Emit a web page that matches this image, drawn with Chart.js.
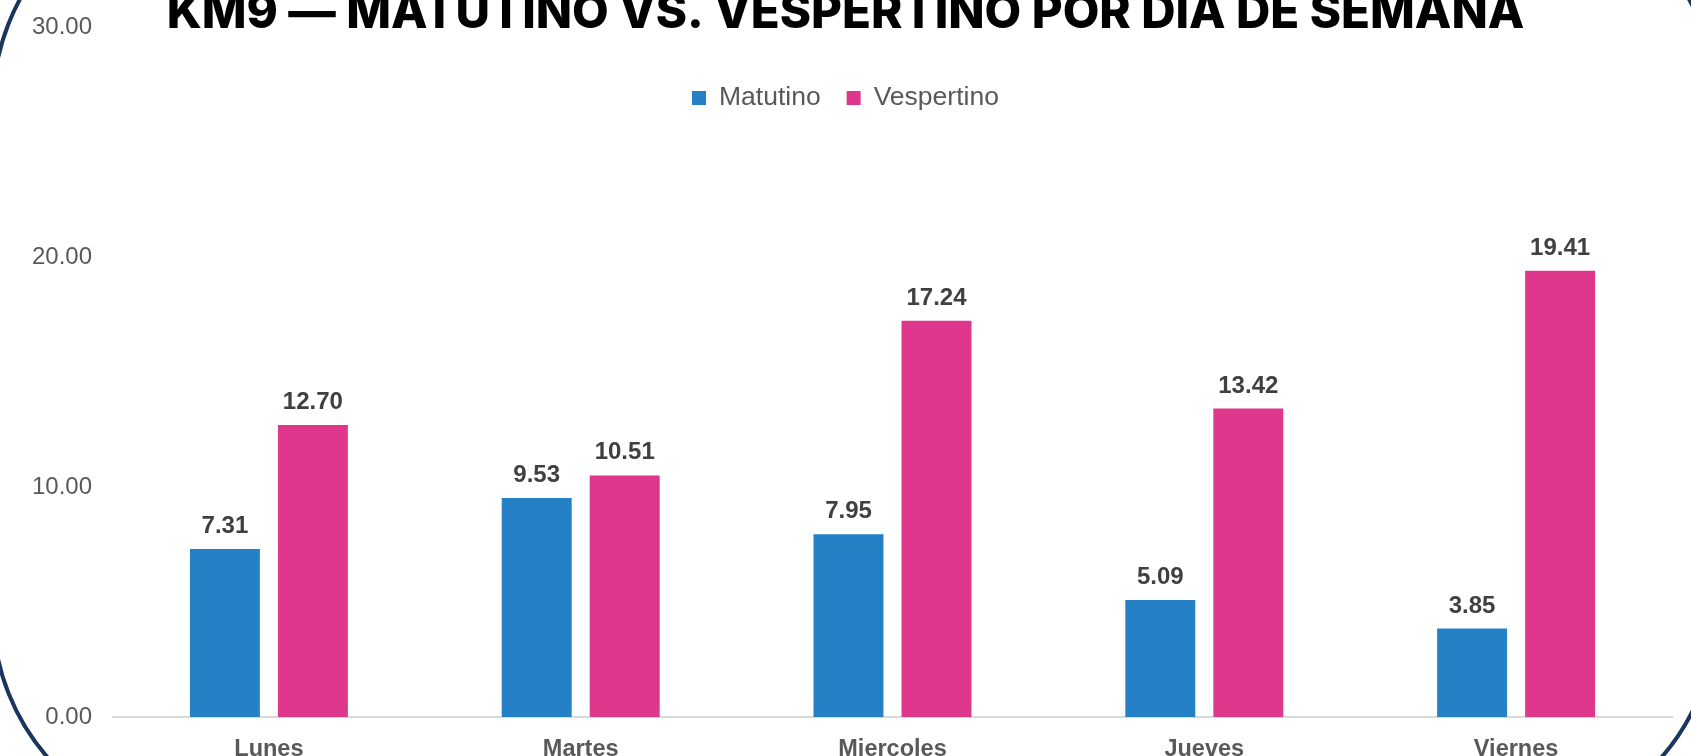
<!DOCTYPE html>
<html>
<head>
<meta charset="utf-8">
<script src="https://cdn.jsdelivr.net/npm/chart.js@4/dist/chart.umd.min.js"></script>
<style>
  html, body { margin: 0; padding: 0; background: #fff; overflow: hidden; }
  #wrap { position: relative; width: 1691px; height: 756px; overflow: hidden; }
  #frame {
    position: absolute; left: -9px; top: -118px; width: 1727px; height: 953px;
    box-sizing: border-box; border: 4.5px solid #1b365d; border-radius: 223px;
  }
  #myChart { position: absolute; left: 0; top: 0; }
</style>
</head>
<body>
<div id="wrap">
  <div id="frame"></div>
  <canvas id="myChart" width="1691" height="756"></canvas>
</div>
<script>
var title = 'KM9 — MATUTINO VS. VESPERTINO POR DIA DE SEMANA';
var days = ['Lunes', 'Martes', 'Miercoles', 'Jueves', 'Viernes'];
var matutino = [7.31, 9.53, 7.95, 5.09, 3.85];
var vespertino = [12.70, 10.51, 17.24, 13.42, 19.41];
var yTicks = [0, 10, 20, 30];

// title + legend drawn over the plot, excel style
var overlay = {
  id: 'overlay',
  afterDraw: function (chart) {
    var ctx = chart.ctx;
    ctx.save();
    ctx.fillStyle = '#000';
    ctx.font = '800 47.5px Inter';
    ctx.textAlign = 'center';
    ctx.textBaseline = 'alphabetic';
    ctx.fillText(title, chart.width / 2, 28);

    ctx.font = '26.5px "Liberation Sans"';
    ctx.textAlign = 'left';
    ctx.textBaseline = 'middle';
    var x = 692;
    chart.data.datasets.forEach(function (ds) {
      ctx.fillStyle = ds.backgroundColor;
      ctx.fillRect(x, 91, 14, 14);
      ctx.fillStyle = '#595959';
      ctx.fillText(ds.label, x + 27, 98);
      x += 27 + ctx.measureText(ds.label).width + 26;
    });
    ctx.restore();
  }
};

var valueLabels = {
  id: 'valueLabels',
  afterDatasetsDraw: function (chart) {
    var ctx = chart.ctx;
    ctx.save();
    ctx.font = 'bold 24px "Liberation Sans"';
    ctx.fillStyle = '#404040';
    ctx.textAlign = 'center';
    ctx.textBaseline = 'alphabetic';
    chart.data.datasets.forEach(function (ds, i) {
      chart.getDatasetMeta(i).data.forEach(function (bar, j) {
        ctx.fillText(ds.data[j].toFixed(2), bar.x, bar.y - 16);
      });
    });
    ctx.restore();
  }
};

var ctx = document.getElementById('myChart').getContext('2d');
var myChart = new Chart(ctx, {
  type: 'bar',
  data: {
    labels: days,
    datasets: [{
      label: 'Matutino',
      data: matutino,
      backgroundColor: '#2580c6'
    }, {
      label: 'Vespertino',
      data: vespertino,
      backgroundColor: '#de378b'
    }]
  },
  options: {
    responsive: false,
    animation: false,
    categoryPercentage: 0.5645,
    barPercentage: 0.795,
    layout: { padding: { top: 13, right: 19, left: 0, bottom: 0 } },
    plugins: {
      legend: { display: false },
      title: { display: false },
      tooltip: { enabled: false }
    },
    scales: {
      x: {
        grid: { display: false },
        border: { display: true, color: '#d9d9d9', width: 2 },
        ticks: {
          color: '#595959',
          padding: 10,
          font: { family: 'Liberation Sans', size: 23.5, weight: 'bold' }
        },
        afterFit: function (scale) { scale.height = 39; }
      },
      y: {
        min: 0,
        max: 30,
        afterBuildTicks: function (scale) {
          scale.ticks = yTicks.map(function (v) { return { value: v }; });
        },
        grid: { display: false },
        border: { display: false },
        ticks: {
          color: '#595959',
          padding: 13,
          font: { family: 'Liberation Sans', size: 24 },
          callback: function (v) { return Number(v).toFixed(2); }
        },
        afterFit: function (scale) { scale.width = 113; }
      }
    }
  },
  plugins: [overlay, valueLabels]
});
</script>
</body>
</html>
